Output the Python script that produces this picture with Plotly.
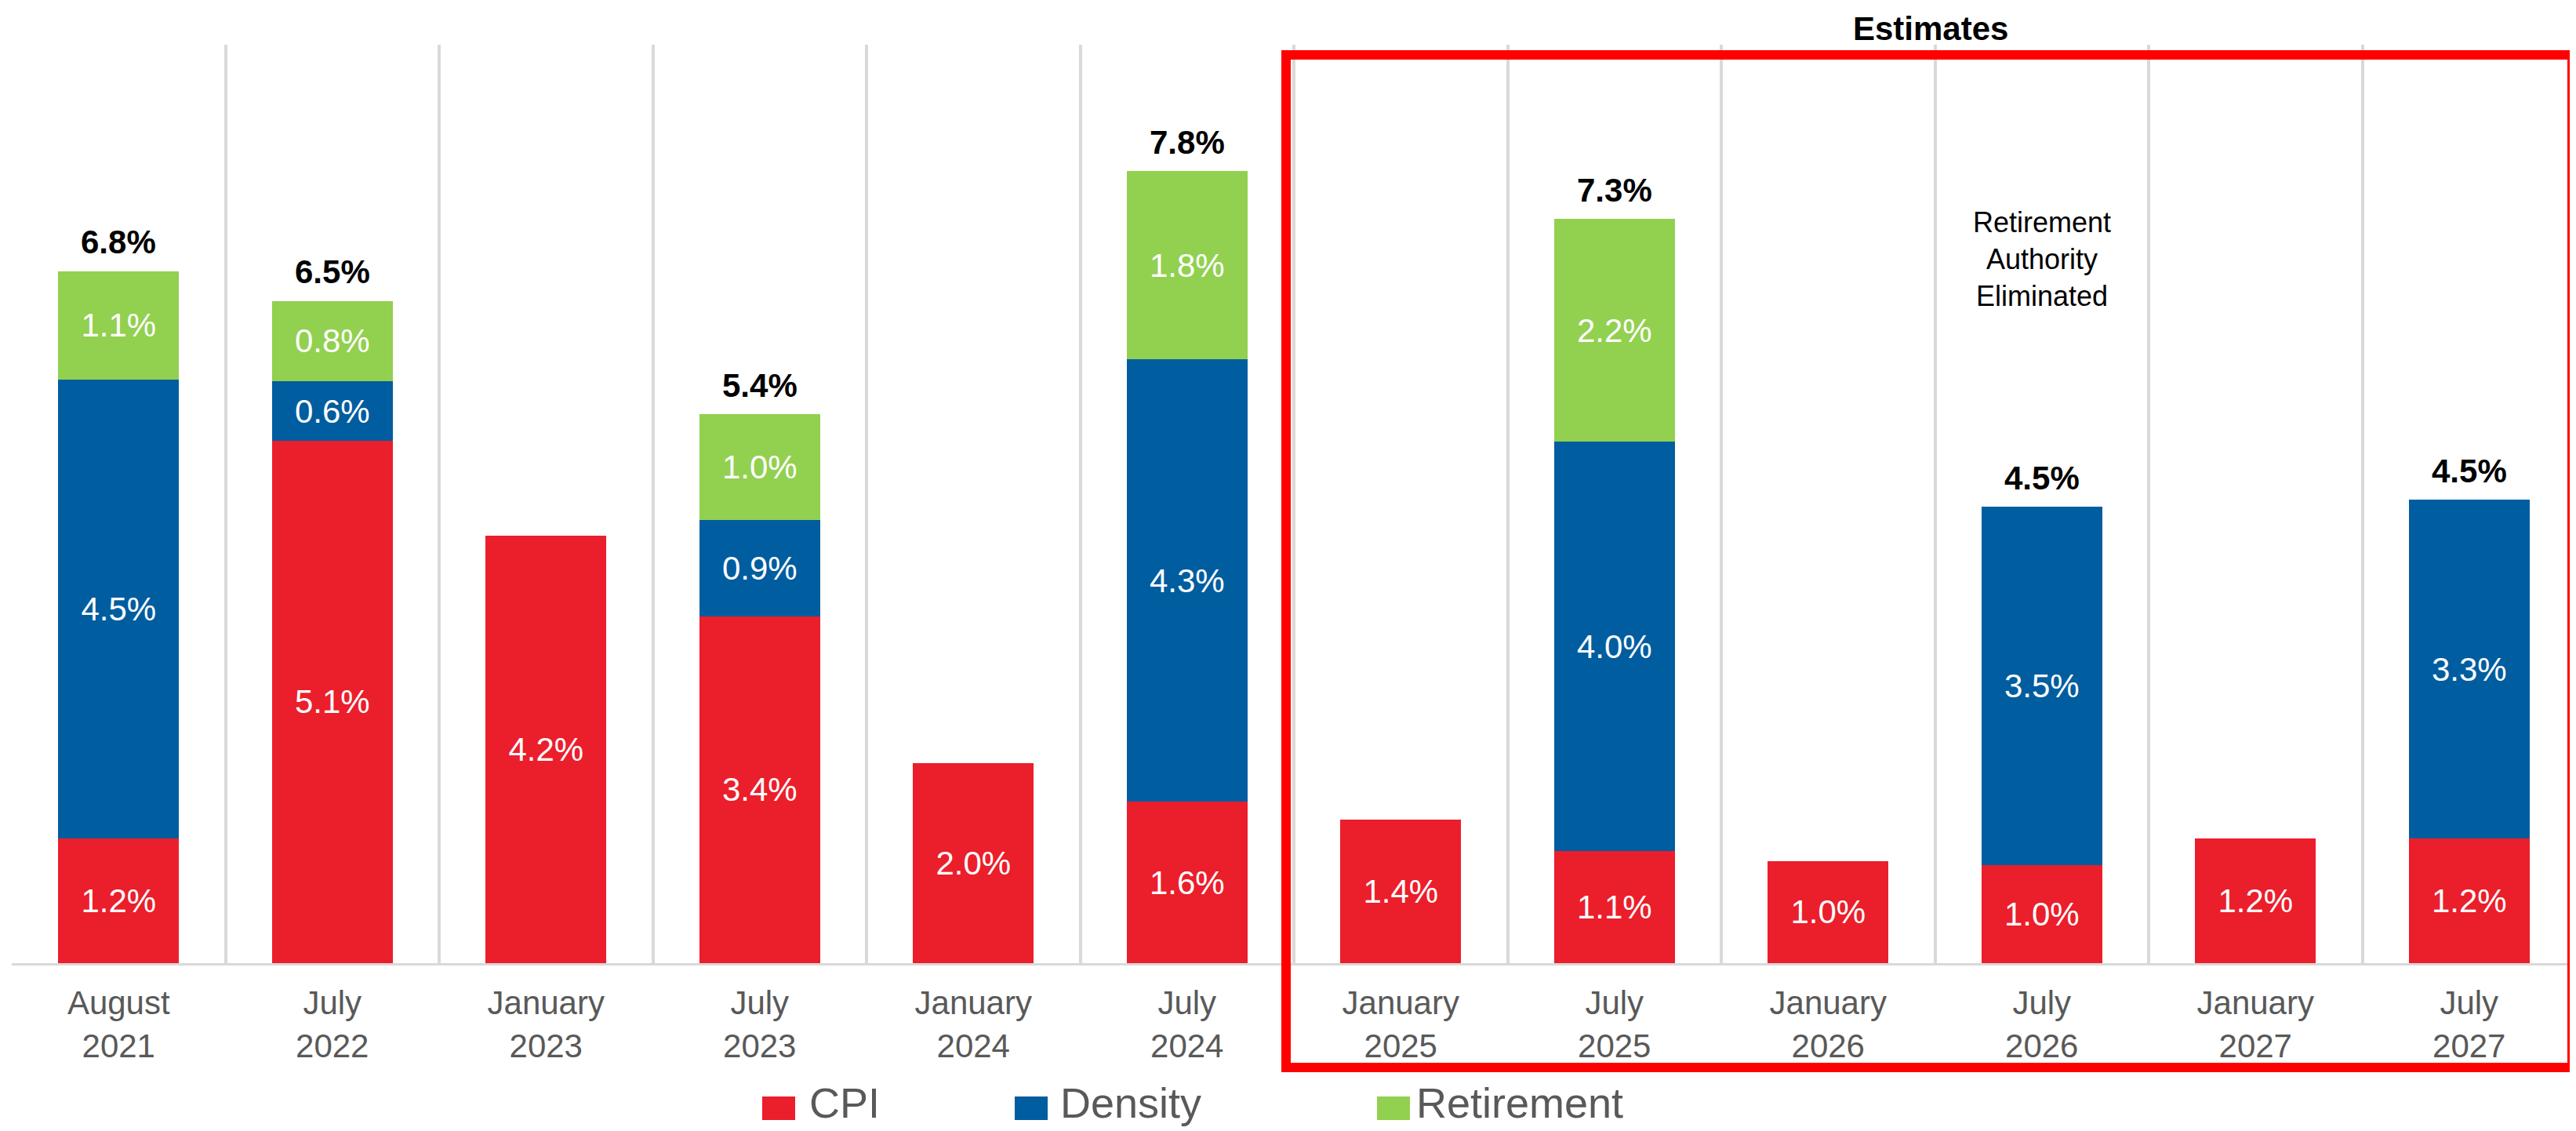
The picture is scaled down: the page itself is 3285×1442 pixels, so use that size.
import plotly.graph_objects as go

categories = ["August<br>2021", "July<br>2022", "January<br>2023", "July<br>2023",
              "January<br>2024", "July<br>2024", "January<br>2025", "July<br>2025",
              "January<br>2026", "July<br>2026", "January<br>2027", "July<br>2027"]
cpi = [1.22, 5.12, 4.19, 3.40, 1.96, 1.58, 1.41, 1.10, 1.00, 0.96, 1.22, 1.22]
density = [4.50, 0.58, None, 0.94, None, 4.34, None, 4.01, None, 3.51, None, 3.32]
retirement = [1.06, 0.79, None, 1.04, None, 1.84, None, 2.18, None, None, None, None]
series_names = ["CPI", "Density", "Retirement"]
estimates_title = "Estimates"
note_text = "Retirement<br>Authority<br>Eliminated"
note_category = "July<br>2026"

RED = "#EB1E2B"
BLUE = "#005D9F"
GREEN = "#92D050"
FONT = "Liberation Sans, Arial, sans-serif"

# page is rendered with an 8px body margin; figure sized to fill the rest
OFF = 8
PAGE_W, PAGE_H = 3285, 1442
W, H = PAGE_W - OFF, PAGE_H - OFF
ML, MR, MT, MB = 15 - OFF, 0, 57 - OFF, PAGE_H - 1228
PW, PH = W - ML - MR, H - MT - MB


def px_x(px):
    """page pixel x -> paper coordinate"""
    return (px - OFF - ML) / PW


def px_y(py):
    """page pixel y -> paper coordinate"""
    return (H - MB - (py - OFF)) / PH


def lab(vals):
    return [f"{v:.1f}%" if v else "" for v in vals]


fig = go.Figure()
for name, vals, col in zip(series_names, [cpi, density, retirement], [RED, BLUE, GREEN]):
    fig.add_trace(go.Bar(
        x=categories, y=vals, name=name, marker=dict(color=col, line=dict(width=0)),
        text=lab(vals), textposition="inside", insidetextanchor="middle",
        textangle=0, constraintext="none",
        textfont=dict(color="white", size=42, family=FONT),
        showlegend=False, hoverinfo="skip",
    ))

annotations = []
for c, a, b, d in zip(categories, cpi, density, retirement):
    if b:
        total = (a or 0) + (b or 0) + (d or 0)
        annotations.append(dict(
            x=c, y=total, xref="x", yref="y", text=f"<b>{total:.1f}%</b>",
            showarrow=False, xanchor="center", yanchor="middle", yshift=37,
            font=dict(size=42, color="black", family=FONT)))

annotations.append(dict(
    x=note_category, y=6.9, xref="x", yref="y", text=note_text, showarrow=False,
    xanchor="center", yanchor="middle",
    font=dict(size=36, color="black", family=FONT), align="center"))

annotations.append(dict(
    x=px_x(2462), y=px_y(37), xref="paper", yref="paper",
    text=f"<b>{estimates_title}</b>", showarrow=False,
    xanchor="center", yanchor="middle",
    font=dict(size=42, color="black", family=FONT)))

shapes = [dict(type="rect", xref="paper", yref="paper",
               x0=px_x(1640), x1=px_x(3280), y0=px_y(1361), y1=px_y(70),
               line=dict(color="#FF0000", width=12), layer="above")]

# custom legend (square + label), positions in page pixels
leg_sq = [972, 1294, 1756]
leg_tx = [1030, 1350, 1804]
for name, col, sx, tx in zip(series_names, [RED, BLUE, GREEN], leg_sq, leg_tx):
    shapes.append(dict(type="rect", xref="paper", yref="paper",
                       x0=px_x(sx), x1=px_x(sx + 42), y0=px_y(1428), y1=px_y(1398),
                       fillcolor=col, line=dict(width=0)))
    annotations.append(dict(x=px_x(tx), y=px_y(1406), xref="paper", yref="paper",
                            text=name, showarrow=False, xanchor="left", yanchor="middle",
                            font=dict(size=54, color="#595959", family=FONT)))

fig.update_layout(
    width=W, height=H, barmode="stack", bargap=0.435,
    margin=dict(l=ML, r=MR, t=MT, b=MB, pad=0),
    plot_bgcolor="white", paper_bgcolor="white",
    font=dict(family=FONT),
    annotations=annotations, shapes=shapes,
    xaxis=dict(type="category", tickson="boundaries", showgrid=True,
               gridcolor="#D9D9D9", gridwidth=4, showline=True, linecolor="#D9D9D9",
               linewidth=3, ticks="", ticklabelstandoff=12,
               tickfont=dict(size=42, color="#595959", family=FONT),
               fixedrange=True),
    yaxis=dict(range=[0, 9], showgrid=False, showticklabels=False, zeroline=False,
               showline=False, fixedrange=True),
)

fig.write_html("out.html")
